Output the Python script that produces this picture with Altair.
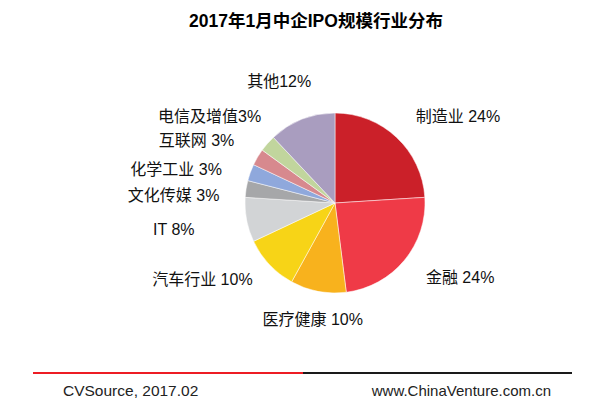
import altair as alt
import pandas as pd
import math

categories = ["制造业", "金融", "医疗健康", "汽车行业", "IT", "文化传媒", "化学工业", "互联网", "电信及增值", "其他"]
values = [24, 24, 10, 10, 8, 3, 3, 3, 3, 12]
labels = ["制造业 24%", "金融 24%", "医疗健康 10%", "汽车行业 10%", "IT 8%", "文化传媒 3%", "化学工业 3%", "互联网 3%", "电信及增值3%", "其他12%"]
colors = ["#CB2029", "#EF3A47", "#F8B21D", "#F7D417", "#D2D4D6", "#A6A7A9", "#8FA8DC", "#D7898E", "#C1D59D", "#A99DBF"]

title_text = "2017年1月中企IPO规模行业分布"
source_text = "CVSource, 2017.02"
site_text = "www.ChinaVenture.com.cn"

total = sum(values)
df = pd.DataFrame({"cat": categories, "value": values, "label": labels, "idx": list(range(len(categories)))})

FONT = "Liberation Sans, Arial, Noto Sans CJK SC"
CX, CY = 335, 203

pie = alt.Chart(df).mark_arc(outerRadius=90, stroke="white", strokeWidth=0.5).encode(
    theta=alt.Theta("value:Q", stack=True, scale=alt.Scale(domain=[0, total])),
    color=alt.Color("cat:N", scale=alt.Scale(domain=categories, range=colors), legend=None),
    order=alt.Order("idx:Q"),
    x=alt.value(CX),
    y=alt.value(CY),
)

text_base = alt.Chart(df).transform_window(
    cum="sum(value)", sort=[alt.SortField("idx")], frame=[None, 0]
).transform_calculate(
    mid="datum.cum - datum.value / 2",
    frac="(datum.cum - datum.value / 2) / " + str(total),
)

def label_layer(cond, align, r, dx=0, dy=0):
    return text_base.transform_filter(cond).mark_text(
        align=align, baseline="middle", font=FONT, fontSize=16, color="#111111", dx=dx, dy=dy
    ).encode(
        theta=alt.Theta("mid:Q", stack=None, scale=alt.Scale(domain=[0, total], range=[0, 2 * math.pi])),
        radius=alt.value(r),
        text="label:N",
        x=alt.value(CX),
        y=alt.value(CY),
    )

layers = [
    label_layer("datum.frac < 0.45", "left", 118),
    label_layer("datum.frac >= 0.45 && datum.frac < 0.56", "center", 119),
    label_layer("datum.frac >= 0.56 && datum.frac < 0.70", "right", 113),
    label_layer("datum.frac >= 0.70 && datum.frac < 0.75", "right", 143),
    label_layer("datum.frac >= 0.75 && datum.frac < 0.79", "right", 117, dy=11),
    label_layer("datum.frac >= 0.79 && datum.frac < 0.82", "right", 117, dx=-3, dy=7),
    label_layer("datum.frac >= 0.82 && datum.frac < 0.85", "right", 117, dy=-2),
    label_layer("datum.frac >= 0.85 && datum.frac < 0.9", "right", 117, dx=14, dy=-9),
    label_layer("datum.frac >= 0.9", "center", 130, dx=-8),
]

title = alt.Chart(pd.DataFrame({"t": [title_text]})).mark_text(
    font=FONT, fontSize=17.5, fontWeight="bold", color="#000000", align="center", baseline="middle"
).encode(text="t:N", x=alt.value(316), y=alt.value(22))

one = pd.DataFrame({"a": [0]})
rule_red = alt.Chart(one).mark_rule(color="#ED1C24", strokeWidth=2).encode(
    x=alt.value(33), x2=alt.value(303), y=alt.value(373))
rule_black = alt.Chart(one).mark_rule(color="#1a1a1a", strokeWidth=2).encode(
    x=alt.value(303), x2=alt.value(572), y=alt.value(373))

src = alt.Chart(pd.DataFrame({"t": [source_text]})).mark_text(
    font=FONT, fontSize=15.5, color="#222222", align="left", baseline="middle"
).encode(text="t:N", x=alt.value(63), y=alt.value(391))
site = alt.Chart(pd.DataFrame({"t": [site_text]})).mark_text(
    font=FONT, fontSize=15, color="#222222", align="right", baseline="middle"
).encode(text="t:N", x=alt.value(551), y=alt.value(391))

chart = alt.layer(
    pie, *layers, title, rule_red, rule_black, src, site
).resolve_scale(theta="independent").properties(
    width=610, height=407, padding=0, autosize=alt.AutoSizeParams(type="none"), background="white"
).configure_view(stroke=None)

chart.save("out.html", embed_options={"renderer": "svg", "actions": False})
